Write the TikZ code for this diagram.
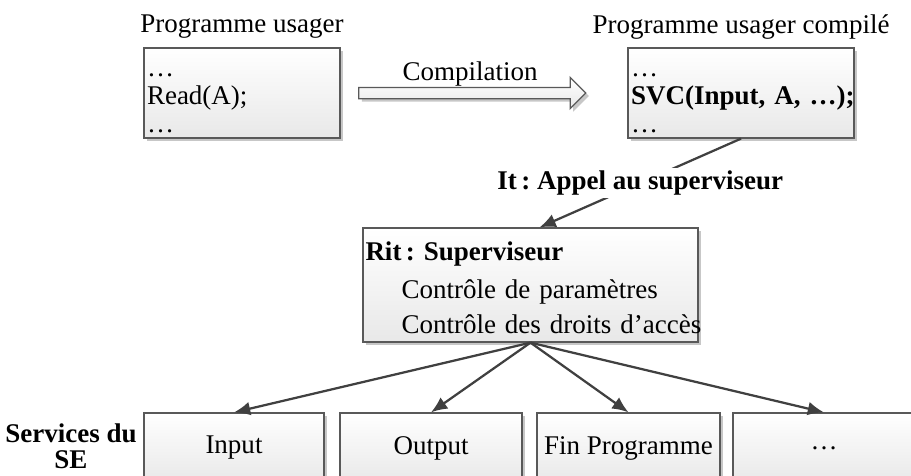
\documentclass[tikz,border=0pt]{standalone}
\usepackage{fontspec}
\setmainfont{Liberation Serif}
\usepackage{tikz}
\usetikzlibrary{arrows.meta,shadows,shapes.arrows,positioning}
\frenchspacing

\begin{document}
\begin{tikzpicture}[x=0.4pt,y=-0.4pt,
    every node/.style={font=\fontsize{10.8pt}{11.2pt}\selectfont},
    boite/.style={draw=black!65, line width=0.5pt, top color=white, bottom color=black!9,
      drop shadow={shadow xshift=1.2pt, shadow yshift=-1.2pt, fill=black!22, opacity=1}},
    service/.style={boite, minimum height=28pt, inner sep=0pt},
    fleche/.style={draw=black!75, line width=0.9pt, -{Latex[length=6.5pt,width=5.5pt]}}]
  \useasboundingbox (0,0) rectangle (911,475);
  \clip (0,0) rectangle (911,475);

  % programmes
  \node (titreusager) at (242,27) {Programme usager};
  \node[boite, minimum width=78.4pt, minimum height=36pt, text width=76pt, inner xsep=1.2pt, inner ysep=0pt, align=left] (usager) at (242,93) {\rule{0pt}{9.6pt}…\\Read(A);\\…};
  \node (titrecompile) at (741,27) {Programme usager compil\'e};
  \node[boite, minimum width=90.4pt, minimum height=36pt, text width=88pt, inner xsep=1.2pt, inner ysep=0pt, align=left] (compile) at (741,93) {\rule{0pt}{9.6pt}…\\\mbox{\bfseries SVC(Input, A, …);}\\…};

  % compilation
  \node[boite, single arrow, minimum height=90.8pt, minimum width=12pt, inner sep=2pt, single arrow head extend=4pt] (compil) at (469.5,93) {};
  \node (lblcompil) at (470,74) {Compilation};

  % superviseur
  \node[boite, minimum width=134pt, minimum height=45.6pt, text width=132pt, inner xsep=1pt, inner ysep=0pt, align=left] (superv) at (530.5,285)
    {\rule{0pt}{9.7pt}\textbf{Rit\,: Superviseur}\\[3.8pt]\mbox{\hspace*{14.4pt}Contr\^ole de param\`etres}\\[3pt]\mbox{\hspace*{14.4pt}Contr\^ole des droits d’acc\`es}};
  \draw[fleche] (compile.south) -- node[fill=white, font=\fontsize{10.8pt}{11.2pt}\selectfont\bfseries, inner sep=1pt, pos=0.5] (lblit) {It\,: Appel au superviseur} ([xshift=3.6pt]superv.north);

  % services
  \node[font=\fontsize{10.8pt}{10.6pt}\selectfont\bfseries, align=center] (servse) at (71,446) {Services du\\SE};
  \node[service, minimum width=72pt] (input) at (234,448) {Input};
  \node[service, minimum width=72.8pt] (output) at (431,448) {Output};
  \node[service, minimum width=73.2pt] (fin) at (628.5,448) {Fin Programme};
  \node[service, minimum width=72.8pt] (autres) at (824,448) {…};

  \draw[fleche] (superv.south) -- (input.north);
  \draw[fleche] (superv.south) -- (output.north);
  \draw[fleche] (superv.south) -- (fin.north);
  \draw[fleche] (superv.south) -- (autres.north);
\end{tikzpicture}
\end{document}
